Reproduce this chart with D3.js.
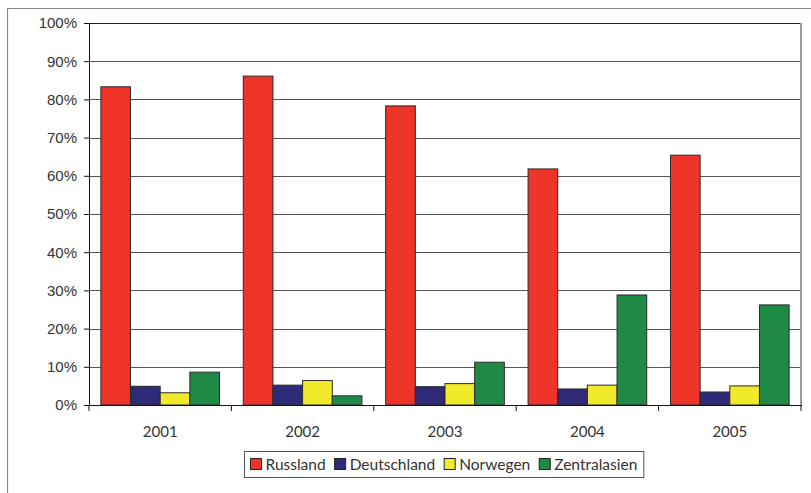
<!DOCTYPE html>
<html>
<head>
<meta charset="utf-8">
<script src="https://cdn.jsdelivr.net/npm/d3@7"></script>
<style>
  html, body { margin: 0; padding: 0; background: #fff; }
  svg { display: block; font-family: Lato, "Open Sans", sans-serif; }
</style>
</head>
<body>
<svg id="chart" width="811" height="493"></svg>
<script>
// Anteile der Bezugsquellen je Jahr (in %)
const years = ["2001", "2002", "2003", "2004", "2005"];
const seriesNames = ["Russland", "Deutschland", "Norwegen", "Zentralasien"];
const russland     = [83.3, 86.1, 78.3, 61.8, 65.4];
const deutschland  = [4.9, 5.2, 4.8, 4.2, 3.4];
const norwegen     = [3.2, 6.4, 5.6, 5.2, 5.0];
const zentralasien = [8.6, 2.4, 11.2, 28.8, 26.2];
const yTicks = [0, 10, 20, 30, 40, 50, 60, 70, 80, 90, 100];
const colors = ["#EE3329", "#2E2A78", "#F1EA2B", "#1F8A45"];

const seriesValues = [russland, deutschland, norwegen, zentralasien];

const svg = d3.select("#chart");
const margin = { left: 89, right: 10, top: 23, bottom: 88 };
const W = 811, H = 493;
const x0 = margin.left, x1 = W - margin.right;
const y0 = H - margin.bottom, y1 = margin.top;
const fontSize = "15px";

// Outer frame
svg.append("path")
  .attr("d", `M7.5,${H} V8.5 H${W}`)
  .attr("fill", "none").attr("stroke", "#8a8a8a").attr("stroke-width", 1.2);

const x = d3.scaleBand().domain(years).range([x0, x1]).paddingInner(0).paddingOuter(0);
// Four bars plus a gap of 0.8 bar width per category
const barW = x.bandwidth() / 4.8;
const xs = d3.scaleBand().domain(seriesNames).range([barW * 0.4, barW * 4.4]);

const y = d3.scaleLinear().domain([0, 100]).range([y0, y1]);

// Grid lines
svg.append("g").selectAll("line").data(yTicks.slice(1, -1)).join("line")
  .attr("x1", x0).attr("x2", x1)
  .attr("y1", d => Math.round(y(d)) + 0.5).attr("y2", d => Math.round(y(d)) + 0.5)
  .attr("stroke", "#555").attr("stroke-width", 1);

// Plot border (top and right)
svg.append("line").attr("x1", x0).attr("x2", x1)
  .attr("y1", Math.round(y(100)) + 0.5).attr("y2", Math.round(y(100)) + 0.5)
  .attr("stroke", "#222").attr("stroke-width", 1);
svg.append("line").attr("x1", x1).attr("x2", x1)
  .attr("y1", y1).attr("y2", y0)
  .attr("stroke", "#999").attr("stroke-width", 2);

// Bars
const groups = svg.append("g").selectAll("g").data(years).join("g")
  .attr("transform", d => `translate(${x(d)},0)`);
groups.selectAll("rect")
  .data((yr, i) => seriesNames.map((s, j) => ({ s, j, v: seriesValues[j][i] })))
  .join("rect")
  .attr("x", d => xs(d.s))
  .attr("width", xs.bandwidth())
  .attr("y", d => y(d.v))
  .attr("height", d => y0 - y(d.v))
  .attr("fill", d => colors[d.j])
  .attr("stroke", "#2a2a2a").attr("stroke-width", 1);

// Y axis
const yAxis = d3.axisLeft(y).tickValues(yTicks).tickFormat(d => d + "%")
  .tickSizeOuter(0).tickSizeInner(5).tickPadding(7);
const gy = svg.append("g").attr("transform", `translate(${x0},0)`).call(yAxis);
gy.select(".domain").attr("stroke", "#111");
gy.selectAll(".tick line").attr("stroke", "#111");
gy.selectAll("text").attr("fill", "#333").style("font-size", fontSize).attr("font-family", null);

// X axis with ticks on category boundaries
const gx = svg.append("g").attr("transform", `translate(0,${y0})`);
gx.append("line").attr("x1", x0).attr("x2", x1 + 1).attr("y1", 0.5).attr("y2", 0.5)
  .attr("stroke", "#111");
gx.selectAll("line.tk").data(years.concat(["end"])).join("line").attr("class", "tk")
  .attr("x1", (d, i) => x0 + i * x.bandwidth()).attr("x2", (d, i) => x0 + i * x.bandwidth())
  .attr("y1", 0).attr("y2", 6).attr("stroke", "#111");
gx.selectAll("text").data(years).join("text")
  .attr("x", d => x(d) + x.bandwidth() / 2).attr("y", 32)
  .attr("text-anchor", "middle").attr("fill", "#333").style("font-size", fontSize)
  .text(d => d);

// Legend
const legend = svg.append("g");
const lx = 244, ly = 451, lh = 26;
const items = legend.selectAll("g").data(seriesNames).join("g");
items.append("rect").attr("width", 11).attr("height", 11)
  .attr("fill", (d, i) => colors[i]).attr("stroke", "#222").attr("stroke-width", 1);
items.append("text").attr("x", 15).attr("y", 11)
  .attr("fill", "#333").style("font-size", "15.5px").text(d => d);
let cx = lx + 6.5;
items.each(function () {
  const g = d3.select(this);
  g.attr("transform", `translate(${cx},${ly + 7.5})`);
  cx += 15 + g.select("text").node().getComputedTextLength() + 9;
});
legend.insert("rect", ":first-child")
  .attr("x", lx + 0.5).attr("y", ly + 0.5).attr("width", cx - lx - 3).attr("height", lh)
  .attr("fill", "#fff").attr("stroke", "#555").attr("stroke-width", 1);
</script>
</body>
</html>
